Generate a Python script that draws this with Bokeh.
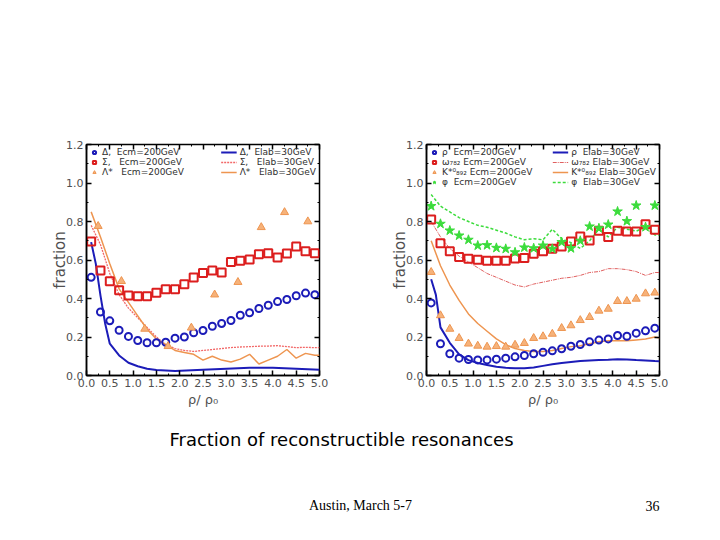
from bokeh.plotting import figure
from bokeh.layouts import column, row
from bokeh.models import (FixedTicker, LinearAxis, Legend, LegendItem, Label, Range1d)
from bokeh.embed import file_html
from bokeh.resources import INLINE

# ---------------- data ----------------
x_pts = [0.1, 0.3, 0.5, 0.7, 0.9, 1.1, 1.3, 1.5, 1.7, 1.9, 2.1, 2.3, 2.5,
         2.7, 2.9, 3.1, 3.3, 3.5, 3.7, 3.9, 4.1, 4.3, 4.5, 4.7, 4.9]

# left panel: baryon resonances
delta_200 = [0.51, 0.33, 0.284, 0.235, 0.203, 0.182, 0.17, 0.17, 0.173, 0.194,
             0.20, 0.222, 0.234, 0.256, 0.27, 0.286, 0.313, 0.326, 0.348, 0.365,
             0.384, 0.395, 0.414, 0.428, 0.42]
sigma_200 = [0.696, 0.545, 0.49, 0.443, 0.416, 0.412, 0.412, 0.43, 0.448, 0.448,
             0.474, 0.509, 0.532, 0.545, 0.535, 0.59, 0.596, 0.603, 0.63, 0.635,
             0.613, 0.634, 0.67, 0.646, 0.635]
lambda_x = [0.25, 0.75, 1.25, 1.75, 2.25, 2.75, 3.25, 3.75, 4.25, 4.75]
lambda_200 = [0.776, 0.49, 0.242, 0.152, 0.248, 0.42, 0.485, 0.77, 0.848, 0.80]

delta_30_x = [0.1, 0.2, 0.3, 0.4, 0.5, 0.7, 0.9, 1.1, 1.3, 1.5, 1.9, 2.5, 3.0,
              3.5, 4.0, 4.5, 5.0]
delta_30 = [0.693, 0.58, 0.415, 0.27, 0.165, 0.104, 0.066, 0.048, 0.035, 0.028,
            0.024, 0.03, 0.035, 0.04, 0.04, 0.035, 0.03]

line_x = [0.1, 0.3, 0.5, 0.7, 0.9, 1.1, 1.3, 1.5, 1.7, 1.9, 2.1, 2.3, 2.5, 2.7,
          2.9, 3.1, 3.3, 3.5, 3.7, 3.9, 4.1, 4.3, 4.5, 4.7, 4.9, 5.0]
sigma_30 = [0.78, 0.68, 0.53, 0.42, 0.35, 0.30, 0.25, 0.20, 0.16, 0.14, 0.13,
            0.125, 0.13, 0.135, 0.14, 0.145, 0.148, 0.15, 0.152, 0.153, 0.155,
            0.15, 0.145, 0.146, 0.145, 0.145]
lambda_30 = [0.85, 0.72, 0.58, 0.45, 0.38, 0.31, 0.24, 0.19, 0.16, 0.13, 0.12,
             0.11, 0.08, 0.10, 0.08, 0.07, 0.085, 0.11, 0.06, 0.08, 0.10, 0.135,
             0.09, 0.115, 0.105, 0.105]

# right panel: meson resonances
rho_200 = [0.377, 0.165, 0.113, 0.09, 0.083, 0.081, 0.081, 0.085, 0.09, 0.097,
           0.104, 0.113, 0.121, 0.128, 0.139, 0.152, 0.161, 0.175, 0.184, 0.19,
           0.208, 0.204, 0.22, 0.232, 0.246]
omega_200 = [0.81, 0.687, 0.646, 0.616, 0.606, 0.601, 0.596, 0.596, 0.596, 0.608,
             0.611, 0.632, 0.646, 0.658, 0.67, 0.696, 0.722, 0.701, 0.752, 0.72,
             0.752, 0.748, 0.748, 0.786, 0.757]
kstar_200 = [0.537, 0.312, 0.242, 0.194, 0.165, 0.154, 0.149, 0.152, 0.149, 0.159,
             0.168, 0.194, 0.203, 0.216, 0.246, 0.26, 0.287, 0.303, 0.336, 0.346,
             0.386, 0.386, 0.398, 0.426, 0.43]
phi_200 = [0.88, 0.788, 0.753, 0.727, 0.705, 0.675, 0.677, 0.663, 0.658, 0.64,
           0.665, 0.661, 0.675, 0.658, 0.693, 0.661, 0.70, 0.774, 0.765, 0.784,
           0.852, 0.802, 0.883, 0.771, 0.883]

rho_30_x = [0.1, 0.2, 0.3, 0.5, 0.7, 0.9, 1.1, 1.3, 1.5, 1.7, 1.9, 2.1, 2.3, 2.5,
            2.7, 2.9, 3.1, 3.3, 3.5, 3.7, 3.9, 4.1, 4.3, 4.5, 4.7, 4.9, 5.0]
rho_30 = [0.50, 0.42, 0.25, 0.17, 0.11, 0.08, 0.065, 0.055, 0.045, 0.04, 0.038,
          0.038, 0.042, 0.05, 0.058, 0.065, 0.07, 0.075, 0.078, 0.08, 0.082,
          0.085, 0.083, 0.08, 0.078, 0.075, 0.074]
omega_30 = [0.80, 0.72, 0.66, 0.62, 0.59, 0.56, 0.53, 0.51, 0.49, 0.47, 0.46,
            0.475, 0.485, 0.495, 0.505, 0.51, 0.52, 0.535, 0.54, 0.555, 0.555,
            0.55, 0.54, 0.52, 0.535, 0.535]
kstar_30 = [0.70, 0.57, 0.47, 0.39, 0.32, 0.27, 0.23, 0.19, 0.16, 0.14, 0.13,
            0.125, 0.125, 0.13, 0.14, 0.15, 0.155, 0.165, 0.175, 0.18, 0.18,
            0.18, 0.185, 0.19, 0.20, 0.195]
phi_30 = [0.94, 0.88, 0.85, 0.82, 0.80, 0.78, 0.77, 0.755, 0.74, 0.72, 0.705,
          0.71, 0.705, 0.76, 0.71, 0.69, 0.66, 0.70, 0.76, 0.72, 0.77, 0.76,
          0.75, 0.77, 0.73, 0.73]

x_ticks = [0.0, 0.5, 1.0, 1.5, 2.0, 2.5, 3.0, 3.5, 4.0, 4.5, 5.0]
x_tick_labels = ["0.0", "0.5", "1.0", "1.5", "2.0", "2.5", "3.0", "3.5", "4.0", "4.5", "5.0"]
y_ticks = [0.0, 0.2, 0.4, 0.6, 0.8, 1.0, 1.2]
y_tick_labels = ["0.0", "0.2", "0.4", "0.6", "0.8", "1.0", "1.2"]

caption = "Fraction of reconstructible resonances"
footer_left = "Austin, March 5-7"
footer_right = "36"

# ---------------- style ----------------
BLUE = "#1c1cb8"
RED = "#dc1e1e"
ORANGE = "#ee9550"
ORANGE_FILL = "#f6b27a"
GREEN = "#3cdc3c"
TICK_FONT = "DejaVu Sans"
TXT = "#505050"

H = 420
TOP = 144
FRAME_H = 231


def make_panel(width, left_border, right_border):
    p = figure(width=width, height=H, output_backend="svg", toolbar_location=None,
               x_range=Range1d(0, 5), y_range=Range1d(0, 1.2),
               min_border_left=left_border, min_border_right=right_border,
               min_border_top=TOP, min_border_bottom=H - TOP - FRAME_H)
    p.grid.visible = False
    p.outline_line_color = "black"
    p.outline_line_width = 1.5
    p.background_fill_color = "white"
    p.border_fill_color = "white"

    bx = p.below[0]
    ly = p.left[0]
    xt = FixedTicker(ticks=x_ticks, minor_ticks=[0.25 * i for i in range(21)])
    yt = FixedTicker(ticks=y_ticks, minor_ticks=[0.1 * i for i in range(13)])
    bx.ticker = xt
    ly.ticker = yt
    bx.major_label_overrides = {t: l for t, l in zip(x_ticks, x_tick_labels)}
    ly.major_label_overrides = {t: l for t, l in zip(y_ticks, y_tick_labels)}

    top = LinearAxis(ticker=xt, axis_line_color=None, major_label_standoff=0,
                     major_label_overrides={t: "" for t in x_ticks})
    right = LinearAxis(ticker=yt, axis_line_color=None, major_label_standoff=0,
                       major_label_overrides={t: "" for t in y_ticks})
    p.add_layout(top, "above")
    p.add_layout(right, "right")

    for ax in [bx, ly, top, right]:
        ax.major_tick_in = 5
        ax.major_tick_out = 0
        ax.minor_tick_in = 2
        ax.minor_tick_out = 0
        ax.major_tick_line_width = 1.5
        ax.major_tick_line_color = "black"
        ax.minor_tick_line_color = "black"
    for ax in [bx, ly]:
        ax.axis_line_width = 1.5
        ax.major_label_text_font = TICK_FONT
        ax.major_label_text_font_size = "11px"
        ax.major_label_text_color = TXT
        ax.major_label_standoff = 3
        ax.axis_label_text_font = TICK_FONT
        ax.axis_label_text_font_style = "normal"
        ax.axis_label_text_color = TXT
    bx.axis_label = "ρ/ ρ₀"
    bx.axis_label_text_font_size = "13px"
    bx.axis_label_standoff = 2
    ly.axis_label = "fraction"
    ly.axis_label_text_font_size = "15px"
    ly.axis_label_standoff = -6
    return p


def add_legends(p, left_items, right_items):
    common = dict(label_text_font=TICK_FONT, label_text_font_size="9px",
                  label_text_color="#303030", label_height=8, glyph_height=8,
                  spacing=0, padding=1, background_fill_alpha=0,
                  border_line_color=None, label_standoff=3, margin=3)
    lg1 = Legend(items=left_items, location="top_left", glyph_width=10, **common)
    lg2 = Legend(items=right_items, location="top_right", glyph_width=16, **common)
    p.add_layout(lg1)
    p.add_layout(lg2)


# ---------------- left panel ----------------
p1 = make_panel(372, 86, 53)
r_d30 = p1.line(delta_30_x, delta_30, line_color=BLUE, line_width=2)
r_s30 = p1.line(line_x, sigma_30, line_color="#f26868", line_width=1.3, line_dash="2 1")
r_l30 = p1.line(line_x, lambda_30, line_color=ORANGE, line_width=1.5)
r_d = p1.scatter(x_pts, delta_200, marker="circle", size=7, fill_color=None,
                 line_color=BLUE, line_width=2)
r_s = p1.scatter(x_pts, sigma_200, marker="square", size=8, fill_color=None,
                 line_color=RED, line_width=2)
r_l = p1.scatter(lambda_x, lambda_200, marker="triangle", size=8,
                 fill_color=ORANGE_FILL, line_color=ORANGE, line_width=1)
add_legends(p1,
            [LegendItem(label="Δ,  Ecm=200GeV", renderers=[r_d]),
             LegendItem(label="Σ,   Ecm=200GeV", renderers=[r_s]),
             LegendItem(label="Λ*   Ecm=200GeV", renderers=[r_l])],
            [LegendItem(label="Δ,  Elab=30GeV", renderers=[r_d30]),
             LegendItem(label="Σ,   Elab=30GeV", renderers=[r_s30]),
             LegendItem(label="Λ*   Elab=30GeV", renderers=[r_l30])])

# ---------------- right panel ----------------
p2 = make_panel(348, 54, 61)
r_r30 = p2.line(rho_30_x, rho_30, line_color=BLUE, line_width=2)
r_o30 = p2.line(line_x, omega_30, line_color="#e06060", line_width=1, line_dash="4 1 1 1")
r_k30 = p2.line(line_x, kstar_30, line_color=ORANGE, line_width=1.5)
r_p30 = p2.line(line_x, phi_30, line_color=GREEN, line_width=1.5, line_dash="3 2")
r_r = p2.scatter(x_pts, rho_200, marker="circle", size=7, fill_color=None,
                 line_color=BLUE, line_width=2)
r_o = p2.scatter(x_pts, omega_200, marker="square", size=8, fill_color=None,
                 line_color=RED, line_width=2)
r_k = p2.scatter(x_pts, kstar_200, marker="triangle", size=8,
                 fill_color=ORANGE_FILL, line_color=ORANGE, line_width=1)
r_p = p2.scatter(x_pts, phi_200, marker="star", size=10,
                 fill_color=GREEN, line_color=GREEN, line_width=1)
add_legends(p2,
            [LegendItem(label="ρ  Ecm=200GeV", renderers=[r_r]),
             LegendItem(label="ω₇₈₂ Ecm=200GeV", renderers=[r_o]),
             LegendItem(label="K*⁰₈₉₂ Ecm=200GeV", renderers=[r_k]),
             LegendItem(label="φ  Ecm=200GeV", renderers=[r_p])],
            [LegendItem(label="ρ  Elab=30GeV", renderers=[r_r30]),
             LegendItem(label="ω₇₈₂ Elab=30GeV", renderers=[r_o30]),
             LegendItem(label="K*⁰₈₉₂ Elab=30GeV", renderers=[r_k30]),
             LegendItem(label="φ  Elab=30GeV", renderers=[r_p30])])

# ---------------- caption / footer ----------------
FH = 540 - H
p3 = figure(width=720, height=FH, output_backend="svg", toolbar_location=None,
            x_range=Range1d(0, 720), y_range=Range1d(0, FH), min_border=0)
p3.axis.visible = False
p3.grid.visible = False
p3.outline_line_color = None
p3.add_layout(Label(x=341, y=FH - 19, text=caption, text_align="center",
                    text_baseline="middle", text_font="DejaVu Sans",
                    text_font_size="18px", text_color="black"))
p3.add_layout(Label(x=360, y=FH - 85, text=footer_left, text_align="center",
                    text_baseline="middle", text_font="Liberation Serif",
                    text_font_size="14px", text_color="black"))
p3.add_layout(Label(x=652, y=FH - 85, text=footer_right, text_align="center",
                    text_baseline="middle", text_font="Liberation Serif",
                    text_font_size="14px", text_color="black"))

layout = column(row(p1, p2), p3)
open("out.html", "w").write(file_html(layout, INLINE))
